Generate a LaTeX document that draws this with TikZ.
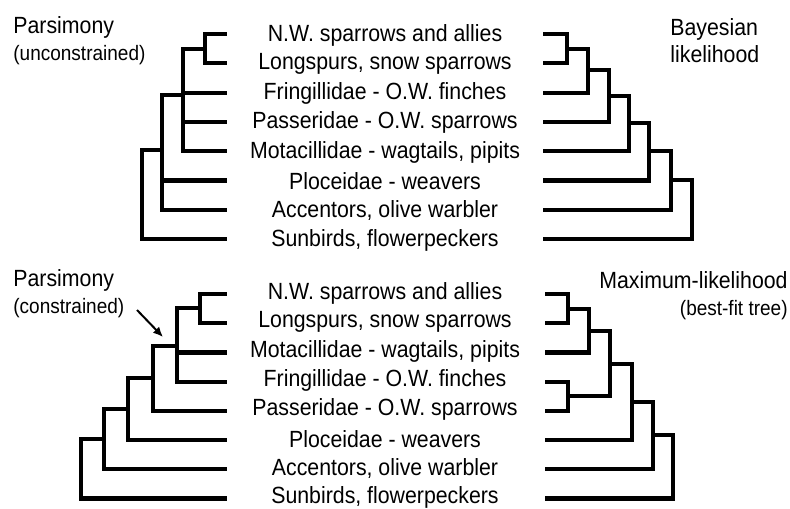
\documentclass[tikz,border=0pt]{standalone}
\usepackage{fontspec}
\setmainfont{Liberation Sans}
\usetikzlibrary{arrows.meta}
\newcommand{\taxfont}{\fontsize{10.65}{13.5}\selectfont}
\newcommand{\subfont}{\fontsize{9.5}{13.5}\selectfont}
\newcommand{\tall}[1]{\scalebox{1}[1.1]{#1}}
\tikzset{tree/.style={line width=2.1pt},
  taxon/.style={font=\taxfont, inner sep=0pt},
  head/.style={font=\taxfont, inner sep=0pt}}

\begin{document}
\begin{tikzpicture}[x=0.5pt,y=-0.5pt]
  \useasboundingbox (0,0) rectangle (790,508);
  % taxa, upper pair of trees
  \foreach \n [count=\i] in {N.W. sparrows and allies, {Longspurs, snow sparrows},
      Fringillidae - O.W. finches, Passeridae - O.W. sparrows,
      {Motacillidae - wagtails, pipits}, Ploceidae - weavers,
      {Accentors, olive warbler}, {Sunbirds, flowerpeckers}}{
    \node[taxon] (t\i) at (385,{35+29.3*(\i-1)}) {\tall{\n}};
    \coordinate (tl\i) at (227,{34+29.3*(\i-1)});
    \coordinate (tr\i) at (543,{34+29.3*(\i-1)});
  }
  % taxa, lower pair of trees
  \foreach \n [count=\i] in {N.W. sparrows and allies, {Longspurs, snow sparrows},
      {Motacillidae - wagtails, pipits}, Fringillidae - O.W. finches,
      Passeridae - O.W. sparrows, Ploceidae - weavers,
      {Accentors, olive warbler}, {Sunbirds, flowerpeckers}}{
    \node[taxon] (s\i) at (385,{293+29.2*(\i-1)}) {\tall{\n}};
    \coordinate (sl\i) at (227,{294+29.2*(\i-1)});
    \coordinate (sr\i) at (545,{294+29.2*(\i-1)});
  }

  % parsimony, unconstrained
  \coordinate (pa1) at (205,49);
  \coordinate (pa2) at (183,95);
  \coordinate (pa3) at (162,150);
  \coordinate (pa4) at (142,195);
  \draw[tree] (pa1) |- (tl1) (pa1) |- (tl2)
    (pa2) |- (pa1) (pa2) |- (tl3) (pa2) |- (tl4) (pa2) |- (tl5)
    (pa3) |- (pa2) (pa3) |- (tl6) (pa3) |- (tl7)
    (pa4) |- (pa3) (pa4) |- (tl8);

  % bayesian
  \coordinate (ba1) at (567,49);
  \coordinate (ba2) at (588,70);
  \coordinate (ba3) at (609,96);
  \coordinate (ba4) at (629,123);
  \coordinate (ba5) at (649,151);
  \coordinate (ba6) at (671,180);
  \coordinate (ba7) at (692,210);
  \draw[tree] (ba1) |- (tr1) (ba1) |- (tr2)
    (ba2) |- (ba1) (ba2) |- (tr3) (ba3) |- (ba2) (ba3) |- (tr4)
    (ba4) |- (ba3) (ba4) |- (tr5) (ba5) |- (ba4) (ba5) |- (tr6)
    (ba6) |- (ba5) (ba6) |- (tr7) (ba7) |- (ba6) (ba7) |- (tr8);

  % parsimony, constrained
  \coordinate (pc1) at (200,308);
  \coordinate (pc2) at (177,346);
  \coordinate (pc3) at (153,378);
  \coordinate (pc4) at (128,409);
  \coordinate (pc5) at (104,439);
  \coordinate (pc6) at (81,469);
  \draw[tree] (pc1) |- (sl1) (pc1) |- (sl2)
    (pc2) |- (pc1) (pc2) |- (sl3) (pc2) |- (sl4)
    (pc3) |- (pc2) (pc3) |- (sl5) (pc4) |- (pc3) (pc4) |- (sl6)
    (pc5) |- (pc4) (pc5) |- (sl7) (pc6) |- (pc5) (pc6) |- (sl8);

  % maximum likelihood
  \coordinate (ml1) at (568,309);
  \coordinate (ml2) at (589,331);
  \coordinate (ml3) at (568,396);
  \coordinate (ml4) at (610,364);
  \coordinate (ml5) at (632,402);
  \coordinate (ml6) at (653,435);
  \coordinate (ml7) at (673,467);
  \draw[tree] (ml1) |- (sr1) (ml1) |- (sr2)
    (ml2) |- (ml1) (ml2) |- (sr3) (ml3) |- (sr4) (ml3) |- (sr5)
    (ml4) |- (ml2) (ml4) |- (ml3) (ml5) |- (ml4) (ml5) |- (sr6)
    (ml6) |- (ml5) (ml6) |- (sr7) (ml7) |- (ml6) (ml7) |- (sr8);

  % headings
  \node[head, anchor=north west, align=left] (hpu) at (13,16)
    {\tall{Parsimony}\\\subfont \tall{(unconstrained)}};
  \node[head, anchor=north west, align=left] (hba) at (670,18)
    {\tall{Bayesian}\\\tall{likelihood}};
  \node[head, anchor=north west, align=left] (hpc) at (13,269)
    {\tall{Parsimony}\\\subfont \tall{(constrained)}};
  \node[head, anchor=north east, align=right] (hml) at (788,271)
    {\tall{Maximum-likelihood}\\\subfont \tall{(best-fit tree)}};
  \coordinate (from) at (137,310);
  \coordinate (aim) at (163,337);
  \draw[line width=1pt, -{Latex[length=5pt,width=4.5pt]}] (from) -- (aim);
\end{tikzpicture}
\end{document}
